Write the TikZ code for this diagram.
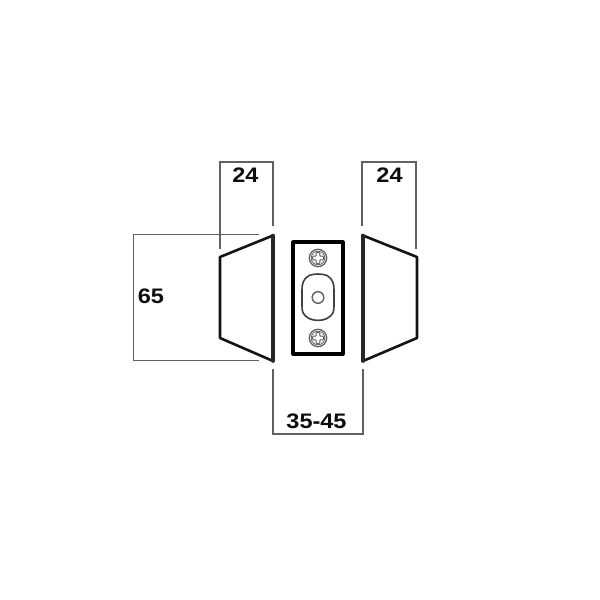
\documentclass[tikz,border=0pt]{standalone}
\usepackage{fontspec}
\setmainfont{Liberation Sans}
\tikzset{
  dimline/.style={draw=black!62,line width=1.4pt},
  body/.style={draw=black!92,line width=2.6pt,line join=round},
  thickedge/.style={draw=black!85,line width=3.6pt,line cap=round},
  plate/.style={draw=black,line width=3.1pt,line join=round},
  fine/.style={draw=black!62,line width=1.2pt},
  dimtext/.style={font=\fontsize{21}{21}\selectfont\bfseries,text=black!95,inner sep=0pt,xscale=1.12}
}
\begin{document}
\begin{tikzpicture}[x=1pt,y=-1pt]
\useasboundingbox (0,0) rectangle (600,600);
\fill[white] (0,0) rectangle (600,600);
% dimension lines
\draw[dimline] (220,249) -- (220,162) -- (273,162) -- (273,226);
\draw[dimline] (362,226) -- (362,162) -- (416,162) -- (416,249);
\draw[dimline] (259,234.5) -- (133.5,234.5) -- (133.5,360.5) -- (259,360.5);
\draw[dimline] (273,369) -- (273,434) -- (363,434) -- (363,369);
% blocks
\draw[body] (273,235.5) -- (220,257) -- (220,338) -- (273,361);
\draw[thickedge] (273,235.5) -- (273,361);
\draw[body] (363,235.5) -- (417,257) -- (417,338) -- (363,361);
\draw[thickedge] (363,235.5) -- (363,361);
% plate
\draw[plate] (293,242) rectangle (343,354);
% slot
\draw[draw=black!75,line width=1.6pt] (309,275.5) .. controls (314,273.5) and (322,273.5) .. (327,275.5)
  .. controls (333,279) and (334,284) .. (334,290) -- (334,306)
  .. controls (334,312) and (333,315) .. (327,318.5) .. controls (322,321) and (314,321) .. (309,318.5)
  .. controls (303,315) and (302,312) .. (302,306) -- (302,290)
  .. controls (302,284) and (303,279) .. (309,275.5) -- cycle;
\draw[fine,line width=1.4pt] (318,297.5) circle (5.8);
% screws
\foreach \cy in {258,338}{
  \draw[fine,line width=1.3pt] (318,\cy) circle (8.7);
  \draw[fine,line width=.8pt] (318,\cy) circle (6.8);
  \draw[fine,line width=1pt,fill=white,rounded corners=.8pt]
    (316.2,\cy-5.5) -- (319.8,\cy-5.5) -- (319.8,\cy-1.8) -- (323.5,\cy-1.8) -- (323.5,\cy+1.8) -- (319.8,\cy+1.8)
    -- (319.8,\cy+5.5) -- (316.2,\cy+5.5) -- (316.2,\cy+1.8) -- (312.5,\cy+1.8) -- (312.5,\cy-1.8) -- (316.2,\cy-1.8) -- cycle;
}
% labels
\node[dimtext] (topleft) at (245.5,175.5) {24};
\node[dimtext] (topright) at (389.5,175.5) {24};
\node[dimtext] (height) at (151,296.5) {65};
\node[dimtext] (gap) at (316.5,421) {35-45};
\end{tikzpicture}
\end{document}
